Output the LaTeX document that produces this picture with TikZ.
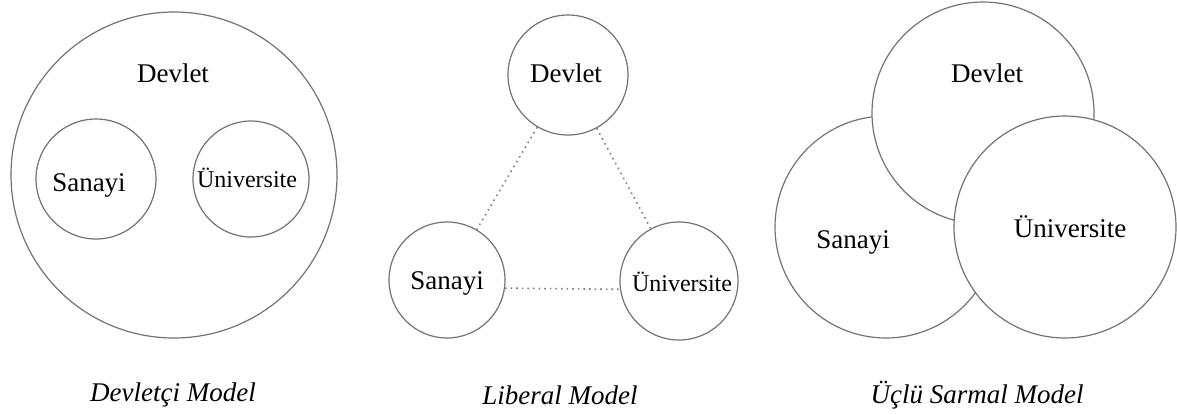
\documentclass[tikz,border=0pt]{standalone}
\usepackage{fontspec}
\setmainfont{Liberation Serif}

\tikzset{
  orb/.style={circle, draw=black!55, line width=0.6pt, fill=white, inner sep=0pt},
  lbl/.style={font=\fontsize{13.5}{16}\selectfont},
  small lbl/.style={font=\fontsize{12}{14}\selectfont},
  modelcap/.style={font=\fontsize{13.5}{16}\selectfont\itshape},
  link/.style={draw=black!50, dotted, line width=0.8pt}
}

\begin{document}
\begin{tikzpicture}[x=0.5pt, y=-0.5pt]
  \useasboundingbox (0,0) rectangle (1177,414);

  % Devletci model: everything inside the state
  \node[orb, minimum size=163pt] (d1) at (174,175) {};
  \node[orb, minimum size=60pt] (s1) at (96,179) {};
  \node[orb, minimum size=58pt] (u1) at (251,179) {};
  \node[lbl] (d1t) at (173,73) {Devlet};
  \node[lbl] (s1t) at (89,185) {Sanayi};
  \node[small lbl] (u1t) at (247,178) {Üniversite};
  \node[modelcap] (c1) at (173,395) {Devletçi Model};

  % Liberal model: three separate spheres
  \node[orb, minimum size=60pt] (d2) at (568,75) {};
  \node[orb, minimum size=58pt] (s2) at (447,280) {};
  \node[orb, minimum size=59pt] (u2) at (679,281) {};
  \draw[link] (d2) -- (s2);
  \draw[link] (d2) -- (u2);
  \draw[link] (s2.-8) -- (u2.-172);
  \node[lbl] (d2t) at (566,73) {Devlet};
  \node[lbl] (s2t) at (447,283) {Sanayi};
  \node[small lbl] (u2t) at (682,282) {Üniversite};
  \node[modelcap] (c2) at (560,395) {Liberal Model};

  % Triple helix: overlapping spheres
  \node[orb, minimum size=111pt] (s3) at (886,227) {};
  \node[orb, minimum size=111pt] (d3) at (983,113) {};
  \node[orb, minimum size=111pt] (u3) at (1065,227) {};
  \node[lbl] (d3t) at (987,73) {Devlet};
  \node[lbl] (s3t) at (853,242) {Sanayi};
  \node[lbl] (u3t) at (1070,227) {Üniversite};
  \node[modelcap] (c3) at (977,395) {Üçlü Sarmal Model};
\end{tikzpicture}
\end{document}
